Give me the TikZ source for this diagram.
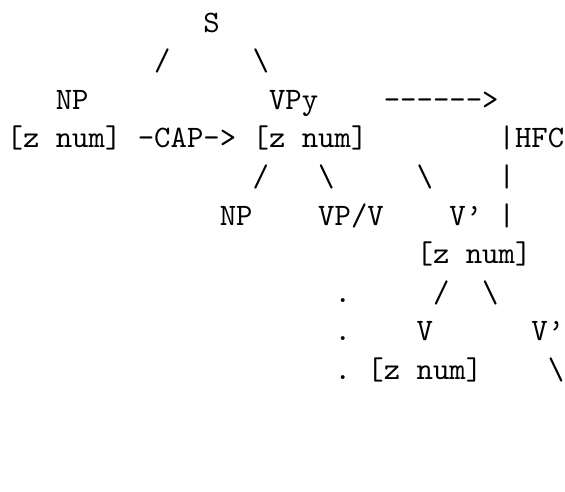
\documentclass[tikz,border=0pt]{standalone}
\usepackage{fontspec}
% monospaced face without TeX ligatures, so "--" stays two hyphens
\newfontfamily\asciifont{lmmono10-regular.otf}
\begin{document}
\begin{tikzpicture}[
  x=16.4pt, y=-38.5pt,
  txt/.style={anchor=base west, inner sep=0pt, outer sep=0pt,
    font=\asciifont\fontsize{31.24pt}{37.5pt}\selectfont}
]
\useasboundingbox (0pt,0pt) rectangle (565pt,-492pt);
% (column, row) grid of the character diagram
\begin{scope}[shift={(6.6pt,-32.5pt)}]
  % row 0
  \node[txt] (s) at (12,0) {S};
  % row 1
  \node[txt] (sLeft)  at (9,1)  {/};
  \node[txt] (sRight) at (15,1) {\textbackslash};
  % row 2
  \node[txt] (np)      at (3,2)  {NP};
  \node[txt] (vpy)     at (16,2) {VPy};
  \node[txt] (hfcArrow) at (23,2) {------>};
  % row 3
  \node[txt] (npFeat) at (0,3)  {[z num]};
  \node[txt] (cap)    at (8,3)  {-CAP->};
  \node[txt] (vpFeat) at (15,3) {[z num]};
  \node[txt] (hfc)    at (30,3) {|HFC};
  % row 4
  \node[txt] (vpLeft)  at (15,4) {/};
  \node[txt] (vpMid)   at (19,4) {\textbackslash};
  \node[txt] (vpRight) at (25,4) {\textbackslash};
  \node[txt] (bar1)    at (30,4) {|};
  % row 5
  \node[txt] (npObj) at (13,5) {NP};
  \node[txt] (vpv)   at (19,5) {VP/V};
  \node[txt] (vbar)  at (27,5) {V’};
  \node[txt] (bar2)  at (30,5) {|};
  % row 6
  \node[txt] (vbarFeat) at (25,6) {[z num]};
  % row 7
  \node[txt] (dot1)     at (20,7) {.};
  \node[txt] (vbarLeft) at (26,7) {/};
  \node[txt] (vbarRight) at (29,7) {\textbackslash};
  % row 8
  \node[txt] (dot2)  at (20,8) {.};
  \node[txt] (v)     at (25,8) {V};
  \node[txt] (vbar2) at (32,8) {V’};
  % row 9
  \node[txt] (dot3)   at (20,9) {.};
  \node[txt] (vFeat)  at (22,9) {[z num]};
  \node[txt] (vbar2Down) at (33,9) {\textbackslash};
\end{scope}
\end{tikzpicture}
\end{document}
